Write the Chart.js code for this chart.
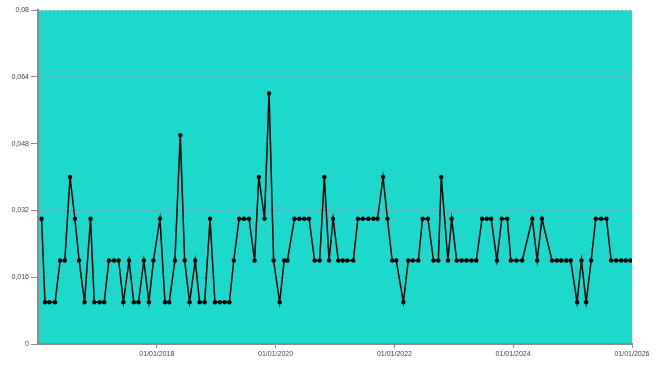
<!DOCTYPE html>
<html>
<head>
<meta charset="utf-8">
<script src="https://cdn.jsdelivr.net/npm/chart.js@4/dist/chart.umd.min.js"></script>
<style>
  body { margin: 0; background: #ffffff; }
  #grafica { display: block; }
</style>
</head>
<body>
<canvas id="grafica" width="660" height="374"></canvas>
<script>
// Fechas de cada medición (aprox. una por mes)
var fechas = [
    '2016-01-23', '2016-02-13', '2016-03-11', '2016-04-15', '2016-05-16', '2016-06-14',
    '2016-07-16', '2016-08-15', '2016-09-10', '2016-10-13', '2016-11-19', '2016-12-12',
    '2017-01-14', '2017-02-11', '2017-03-12', '2017-04-13', '2017-05-11', '2017-06-09',
    '2017-07-14', '2017-08-12', '2017-09-10', '2017-10-13', '2017-11-13', '2017-12-11',
    '2018-01-20', '2018-02-20', '2018-03-18', '2018-04-22', '2018-05-25', '2018-06-21',
    '2018-07-21', '2018-08-25', '2018-09-21', '2018-10-22', '2018-11-24', '2018-12-24',
    '2019-01-23', '2019-02-22', '2019-03-23', '2019-04-19', '2019-05-22', '2019-06-21',
    '2019-07-22', '2019-08-25', '2019-09-20', '2019-10-25', '2019-11-22', '2019-12-20',
    '2020-01-26', '2020-02-23', '2020-03-14', '2020-04-26', '2020-05-27', '2020-06-26',
    '2020-07-25', '2020-08-28', '2020-09-28', '2020-10-27', '2020-11-25', '2020-12-20',
    '2021-01-21', '2021-02-17', '2021-03-17', '2021-04-23', '2021-05-21', '2021-06-21',
    '2021-07-25', '2021-08-25', '2021-09-19', '2021-10-23', '2021-11-19', '2021-12-18',
    '2022-01-12', '2022-02-25', '2022-03-27', '2022-04-24', '2022-05-28', '2022-06-23',
    '2022-07-26', '2022-08-29', '2022-09-28', '2022-10-16', '2022-11-26', '2022-12-19',
    '2023-01-19', '2023-02-18', '2023-03-20', '2023-04-20', '2023-05-19', '2023-06-24',
    '2023-07-23', '2023-08-19', '2023-09-23', '2023-10-23', '2023-11-26', '2023-12-18',
    '2024-01-21', '2024-02-26', '2024-04-28', '2024-05-28', '2024-06-26', '2024-08-27',
    '2024-09-25', '2024-10-23', '2024-11-23', '2024-12-20', '2025-01-28', '2025-02-24',
    '2025-03-25', '2025-04-25', '2025-05-23', '2025-06-25', '2025-07-28', '2025-08-26',
    '2025-09-26', '2025-10-27', '2025-11-24', '2025-12-23'
];

// Valores de la serie
var valores = [
    0.03, 0.01, 0.01, 0.01, 0.02, 0.02, 0.04, 0.03, 0.02, 0.01, 0.03, 0.01,
    0.01, 0.01, 0.02, 0.02, 0.02, 0.01, 0.02, 0.01, 0.01, 0.02, 0.01, 0.02,
    0.03, 0.01, 0.01, 0.02, 0.05, 0.02, 0.01, 0.02, 0.01, 0.01, 0.03, 0.01,
    0.01, 0.01, 0.01, 0.02, 0.03, 0.03, 0.03, 0.02, 0.04, 0.03, 0.06, 0.02,
    0.01, 0.02, 0.02, 0.03, 0.03, 0.03, 0.03, 0.02, 0.02, 0.04, 0.02, 0.03,
    0.02, 0.02, 0.02, 0.02, 0.03, 0.03, 0.03, 0.03, 0.03, 0.04, 0.03, 0.02,
    0.02, 0.01, 0.02, 0.02, 0.02, 0.03, 0.03, 0.02, 0.02, 0.04, 0.02, 0.03,
    0.02, 0.02, 0.02, 0.02, 0.02, 0.03, 0.03, 0.03, 0.02, 0.03, 0.03, 0.02,
    0.02, 0.02, 0.03, 0.02, 0.03, 0.02, 0.02, 0.02, 0.02, 0.02, 0.01, 0.02,
    0.01, 0.02, 0.03, 0.03, 0.03, 0.02, 0.02, 0.02, 0.02, 0.02
];

// Marcas de los ejes
var ticksY = [0, 0.016, 0.032, 0.048, 0.064, 0.08];
var aniosX = [2018, 2020, 2022, 2024, 2026];
var inicioX = 2016;
var finX = 2026;

function aTiempo(fecha) {
    var p = fecha.split('-');
    return Date.UTC(+p[0], +p[1] - 1, +p[2]);
}

var puntos = fechas.map(function(f, i) {
    return { x: aTiempo(f), y: valores[i] };
});

// Fondo turquesa del área de la gráfica
var fondoArea = {
    id: 'fondoArea',
    beforeDraw: function(chart) {
        var a = chart.chartArea;
        var ctx = chart.ctx;
        ctx.save();
        ctx.fillStyle = '#1dd9cd';
        ctx.fillRect(a.left, a.top, a.right - a.left, a.bottom - a.top);
        ctx.restore();
    }
};

var fuente = { family: "'Liberation Sans', Arial, sans-serif", size: 7 };

var ctx = document.getElementById('grafica').getContext('2d');
var grafica = new Chart(ctx, {
    type: 'line',
    data: {
        datasets: [{
            data: puntos,
            borderColor: '#000000',
            backgroundColor: '#000000',
            borderWidth: 1.5,
            pointRadius: 2.2,
            pointBorderWidth: 0,
            pointBackgroundColor: '#000000',
            tension: 0,
            fill: false
        }]
    },
    options: {
        responsive: false,
        animation: false,
        devicePixelRatio: 1,
        layout: { padding: { left: 0, top: 10, right: 28, bottom: 0 } },
        plugins: {
            legend: { display: false },
            tooltip: { enabled: false }
        },
        scales: {
            x: {
                type: 'linear',
                min: Date.UTC(inicioX, 0, 1),
                max: Date.UTC(finX, 0, 1),
                afterBuildTicks: function(scale) {
                    scale.ticks = aniosX.map(function(a) { return { value: Date.UTC(a, 0, 1) }; });
                },
                afterFit: function(scale) { scale.height = 30; },
                ticks: {
                    autoSkip: false,
                    maxRotation: 0,
                    padding: 2,
                    color: '#444444',
                    font: fuente,
                    callback: function(v) {
                        return '01/01/' + new Date(v).getUTCFullYear();
                    }
                },
                grid: {
                    drawOnChartArea: false,
                    drawTicks: true,
                    tickLength: 4,
                    tickColor: '#8c8c8c',
                    tickWidth: 1
                },
                border: { display: true, color: '#8c8c8c', width: 2 }
            },
            y: {
                min: 0,
                max: 0.08,
                afterBuildTicks: function(scale) {
                    scale.ticks = ticksY.map(function(v) { return { value: v }; });
                },
                afterFit: function(scale) { scale.width = 38; },
                ticks: {
                    padding: 2,
                    color: '#444444',
                    font: fuente,
                    callback: function(v) {
                        return String(v).replace('.', ',');
                    }
                },
                grid: {
                    color: function(c) {
                        return c.tick && c.tick.value === 0.08 ? '#c8c8c8' : '#8a9c9a';
                    },
                    lineWidth: 1,
                    drawTicks: true,
                    tickLength: 7,
                    tickColor: '#8c8c8c',
                    tickBorderDash: []
                },
                border: { display: true, color: '#8c8c8c', width: 2, dash: [2, 2] }
            }
        }
    },
    plugins: [fondoArea]
});
</script>
</body>
</html>
